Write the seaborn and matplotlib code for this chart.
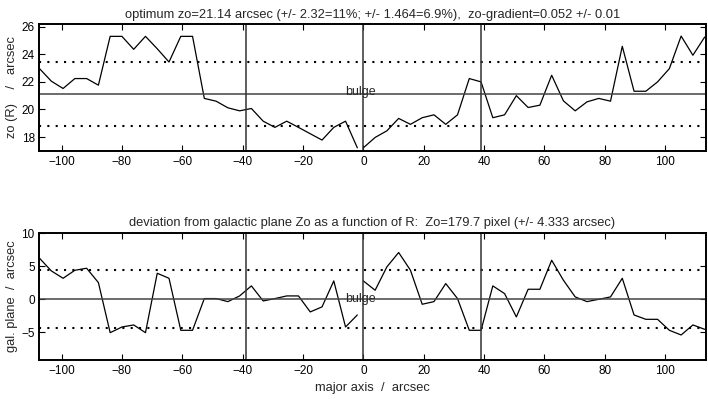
import numpy as np
import pandas as pd
import matplotlib
matplotlib.use("Agg")
import matplotlib.pyplot as plt
import seaborn as sns

# Sample positions along the major axis (arcsec), left and right of the centre
x_left = [-107.3, -103.4, -99.5, -95.6, -91.7, -87.8, -83.9, -80.0, -76.1, -72.2,
          -68.3, -64.4, -60.5, -56.6, -52.7, -48.8, -44.9, -41.0, -37.1, -33.2,
          -29.3, -25.4, -21.5, -17.6, -13.7, -9.8, -5.9, -2.0]
x_right = [0.0, 3.9, 7.8, 11.7, 15.6, 19.5, 23.4, 27.3, 31.2, 35.1,
           39.0, 42.9, 46.8, 50.7, 54.6, 58.5, 62.4, 66.3, 70.2, 74.1,
           78.0, 81.9, 85.8, 89.7, 93.6, 97.5, 101.4, 105.3, 109.2, 113.1]

# Scale height zo(R) in arcsec
zo_left = [22.96, 22.05, 21.52, 22.24, 22.24, 21.76, 25.3, 25.3, 24.36, 25.3,
           24.4, 23.44, 25.3, 25.3, 20.8, 20.6, 20.12, 19.9, 20.07, 19.15,
           18.7, 19.15, 18.7, 18.24, 17.78, 18.7, 19.15, 17.22]
zo_right = [17.22, 17.97, 18.45, 19.35, 18.92, 19.4, 19.61, 18.92, 19.61, 22.24,
            22.0, 19.4, 19.61, 21.0, 20.14, 20.31, 22.48, 20.62, 19.9, 20.55,
            20.8, 20.6, 24.58, 21.32, 21.32, 22.0, 22.96, 25.32, 23.93, 25.25]

# Deviation from the galactic plane in arcsec
dev_left = [6.18, 4.27, 3.15, 4.36, 4.67, 2.5, -5.08, -4.22, -3.91, -5.08,
            3.91, 3.15, -4.72, -4.72, 0.08, 0.08, -0.38, 0.48, 2.0, -0.28,
            0.08, 0.48, 0.48, -1.94, -1.18, 2.75, -4.22, -2.4]
dev_right = [2.75, 1.34, 4.88, 7.05, 4.37, -0.78, -0.38, 2.35, 0.08, -4.72,
             -4.72, 2.0, 0.83, -2.7, 1.49, 1.49, 5.88, 2.85, 0.33, -0.38,
             -0.03, 0.33, 3.15, -2.4, -3.06, -3.06, -4.72, -5.43, -3.91, -4.57]

# Reference values
zo_opt = 21.14
zo_err = 2.32
dev_mean = 0.0
dev_err = 4.333
bulge_edge = 39.0

top_title = ("optimum zo=21.14 arcsec (+/- 2.32=11%; +/- 1.464=6.9%),  "
             "zo-gradient=0.052 +/- 0.01")
bottom_title = ("deviation from galactic plane Zo as a function of R:  "
                "Zo=179.7 pixel (+/- 4.333 arcsec)")


def style_axes(ax, ylim, yticks):
    ax.set_xlim(-107.5, 113.5)
    ax.set_ylim(*ylim)
    ax.set_xticks(np.arange(-100, 101, 20))
    ax.set_yticks(yticks)
    ax.tick_params(direction="in", top=True, right=True, length=4,
                   width=0.8, labelsize=8.5, pad=3, colors="black")
    ax.tick_params(axis="x", pad=4)
    for s in ax.spines.values():
        s.set_color("black")
        s.set_linewidth(1.4)
    ax.grid(False)


def draw_panel(ax, yl, yr, centre, err, text_dy):
    # two halves are drawn separately, as in the original
    sns.lineplot(x=x_left, y=yl, ax=ax, color="black", lw=0.9,
                 estimator=None, sort=False)
    sns.lineplot(x=x_right, y=yr, ax=ax, color="black", lw=0.9,
                 estimator=None, sort=False)
    ax.axhline(centre, color="#444444", lw=1.1)
    for v in (centre - err, centre + err):
        ax.axhline(v, color="black", lw=1.5, linestyle=(0, (1, 3)))
    for xv in (-bulge_edge, 0, bulge_edge):
        ax.axvline(xv, color="#333333", lw=1.1)
    ax.text(-6, centre + text_dy, "bulge", fontsize=9, ha="left", va="center")


def main():
    sns.set_style("ticks")
    plt.rcParams["font.family"] = ["Liberation Sans", "DejaVu Sans"]

    fig = plt.figure(figsize=(7.08, 3.99), dpi=100)
    ax1 = fig.add_axes([0.055, 0.622, 0.942, 0.318])
    ax2 = fig.add_axes([0.055, 0.098, 0.942, 0.318])

    style_axes(ax1, (17.0, 26.2), [18, 20, 22, 24, 26])
    draw_panel(ax1, zo_left, zo_right, zo_opt, zo_err, 0.12)
    ax1.set_title(top_title, fontsize=9.3, pad=4)
    ax1.set_ylabel("zo (R)    /   arcsec", fontsize=9.3)
    ax1.yaxis.set_label_coords(-0.031, 0.5)

    style_axes(ax2, (-9.2, 10.0), [-5, 0, 5, 10])
    draw_panel(ax2, dev_left, dev_right, dev_mean, dev_err, 0.0)
    ax2.set_title(bottom_title, fontsize=9.3, pad=5)
    ax2.set_ylabel("gal. plane  /  arcsec", fontsize=9.3)
    ax2.yaxis.set_label_coords(-0.031, 0.5)
    ax2.set_xlabel("major axis  /  arcsec", fontsize=9.3, labelpad=3)

    fig.savefig("out.png", dpi=100)
    plt.close(fig)


if __name__ == "__main__":
    main()
